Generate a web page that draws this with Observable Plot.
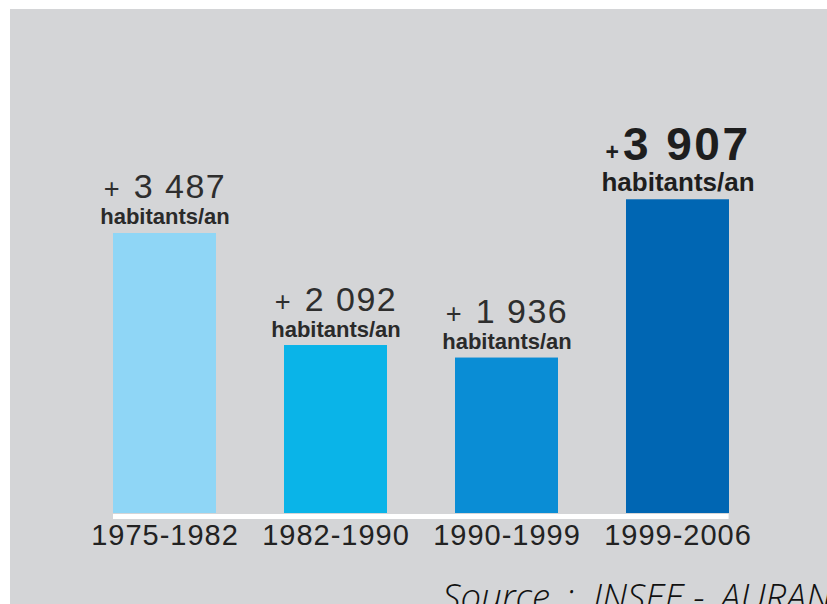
<!DOCTYPE html>
<html>
<head>
<meta charset="utf-8">
<script src="https://cdn.jsdelivr.net/npm/d3@7"></script>
<script src="https://cdn.jsdelivr.net/npm/@observablehq/plot@0.6"></script>
<style>
  html, body { margin: 0; padding: 0; background: #ffffff; overflow: hidden; }
  #chart { position: absolute; left: 10px; top: 9px; }
  #chart svg g[aria-label="x-axis tick label"] text { letter-spacing: 1px; }
</style>
</head>
<body>
<div id="chart"></div>
<script>
// ---- data ----
const periods = ["1975-1982", "1982-1990", "1990-1999", "1999-2006"];
const gains = [3487, 2092, 1936, 3907];           // habitants gagnés par an
const unitLabel = "habitants/an";
const emphasizedPeriod = "1999-2006";
const sourceText = "Source\u00a0\u2009:\u00a0\u00a0INSEE\u00a0-\u00a0\u2009AURAN";

// ---- styles ----
const barColors = ["#8fd6f6", "#0ab4e8", "#0a8dd5", "#0066b3"];

const data = periods.map((p, i) => ({period: p, gain: gains[i]}));
const regular = data.filter(d => d.period !== emphasizedPeriod);
const strong = data.filter(d => d.period === emphasizedPeriod);
const fmt = v => d3.format(",")(v).replace(/,/g, " ");

const chart = Plot.plot({
  width: 817,
  height: 595,
  marginLeft: 68.8,
  marginRight: 64.2,
  marginTop: 41,
  marginBottom: 91,
  style: {background: "#d4d5d7", fontFamily: "'Liberation Sans', Arial, sans-serif", color: "#222"},
  x: {domain: periods, paddingInner: 0.4, paddingOuter: 0.2, label: null},
  y: {domain: [0, 5766], axis: null},
  color: {domain: periods, range: barColors},
  marks: [
    Plot.barY(data, {x: "period", y: "gain", fill: "period"}),
    Plot.ruleY([0], {stroke: "white", strokeWidth: 5, dy: 3, insetLeft: 34.2, insetRight: 34.2}),
    Plot.axisX({tickSize: 0, tickPadding: 11, fontSize: 29, fill: "#222", label: null}),
    Plot.text(regular, {x: "period", y: "gain", text: d => "+ " + fmt(d.gain),
      lineAnchor: "bottom", dy: -35, fontSize: 34, fill: "#2e2e2e"}),
    Plot.text(regular, {x: "period", y: "gain", text: () => unitLabel,
      lineAnchor: "bottom", dy: -9, fontSize: 22, fontWeight: "bold", fill: "#2a2a2a"}),
    Plot.text(strong, {x: "period", y: "gain", text: d => "+" + fmt(d.gain),
      lineAnchor: "bottom", dy: -40, fontSize: 46, fontWeight: "bold", fill: "#1e1e1e"}),
    Plot.text(strong, {x: "period", y: "gain", text: () => unitLabel,
      lineAnchor: "bottom", dy: -9, fontSize: 26, fontWeight: "bold", fill: "#1e1e1e"}),
    Plot.text([sourceText], {frameAnchor: "bottom-left", textAnchor: "start", lineAnchor: "bottom",
      dx: 363, dy: 96, fontSize: 36.5, fontStyle: "italic", fontWeight: 300,
      fontFamily: "'Open Sans', 'DejaVu Sans', sans-serif", fill: "#111"})
  ]
});

// make the "+" sign smaller, as in the original
d3.select(chart).selectAll("text").each(function() {
  if (this.querySelector("tspan")) return;
  const t = this.textContent;
  const sel = d3.select(this);
  if (t.startsWith("+ ")) {
    sel.text(null);
    sel.append("tspan").attr("font-size", "0.8em").text("+");
    sel.append("tspan").attr("dx", 14).attr("letter-spacing", "1.5px").text(t.slice(2));
  } else if (t.startsWith("+")) {
    sel.text(null);
    sel.append("tspan").attr("font-size", "0.5em").text("+");
    sel.append("tspan").attr("dx", 4).attr("letter-spacing", "2.5px").text(t.slice(1));
  }
});

document.getElementById("chart").appendChild(chart);
</script>
</body>
</html>
